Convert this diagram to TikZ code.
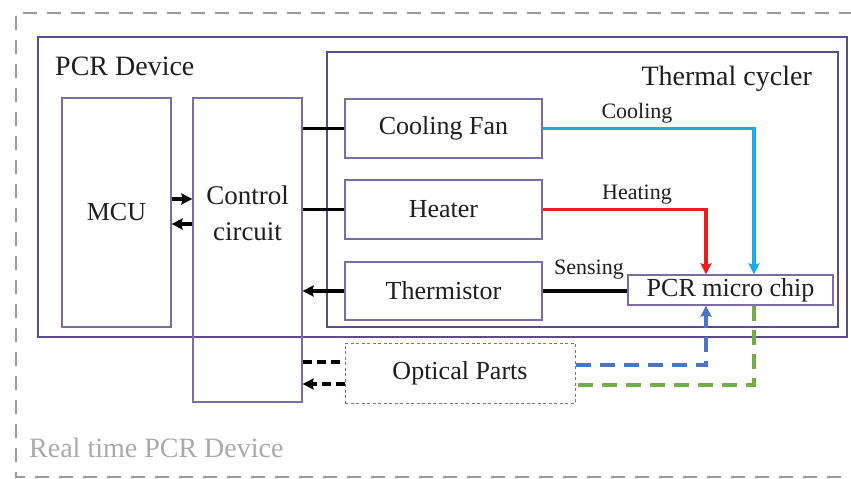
\documentclass[tikz,border=0pt]{standalone}
\usepackage{fontspec}
\setmainfont{Liberation Serif}
\usetikzlibrary{arrows.meta}
\definecolor{frame}{HTML}{5C4A8C}
\definecolor{boxc}{HTML}{7D6CA3}
\definecolor{txt}{HTML}{1E1E1E}
\definecolor{outerg}{HTML}{9A9A9A}
\definecolor{coolc}{HTML}{1EA9E8}
\definecolor{heatc}{HTML}{EE1C1C}
\definecolor{optblue}{HTML}{4A74C6}
\definecolor{optgreen}{HTML}{72AC44}
\begin{document}
\begin{tikzpicture}[x=1pt,y=-1pt,
  bigframe/.style={draw=frame,line width=2.2pt},
  blk/.style={draw=boxc,line width=1.3pt,inner sep=0pt,text=txt,font=\fontsize{26}{30}\selectfont},
  lbl/.style={inner sep=0pt,text=txt,font=\fontsize{22}{26}\selectfont},
  conn/.style={line width=3.4pt,black},
  tip/.style={-{Stealth[length=11pt,width=11pt,inset=1.5pt]}},
  bdash/.style={line width=3.4pt,black,dash pattern=on 9pt off 5pt},
  cdash/.style={line width=3.4pt,dash pattern=on 15pt off 9pt},
]
\useasboundingbox (0,0) rectangle (851,479);
% outer dashed frame (right side beyond picture)
\draw[outerg,line width=2.6pt,dash pattern=on 14pt off 10pt] (853,13) -- (16,13) -- (16,477) -- (853,477);
\node[anchor=west,inner sep=0pt,text=outerg!85!white,font=\fontsize{28}{32}\selectfont] (rtlabel) at (29,448) {Real time PCR Device};

% PCR device frame
\node[bigframe,inner sep=0pt,minimum width=809pt,minimum height=300pt] (pcr) at (442.5,187) {};
\node[anchor=west,inner sep=0pt,text=txt,font=\fontsize{28}{32}\selectfont] (pcrlabel) at (55,66) {PCR Device};
% thermal cycler frame
\node[bigframe,inner sep=0pt,minimum width=511pt,minimum height=275pt] (tc) at (582.5,189.5) {};
\node[anchor=east,inner sep=0pt,text=txt,font=\fontsize{28}{32}\selectfont] (tclabel) at (812,79) {Thermal cycler};

% blocks
\node[blk,minimum width=109pt,minimum height=229pt] (mcu) at (116.5,212.5) {MCU};
\node[blk,minimum width=109pt,minimum height=304pt] (ctl) at (247.5,250) {};
\node[inner sep=0pt,text=txt,font=\fontsize{27}{36}\selectfont,align=center] (ctltext) at (247.5,213) {Control\\circuit};
\node[blk,minimum width=197pt,minimum height=59pt] (fan) at (443.5,128.5) {Cooling Fan};
\node[blk,minimum width=197pt,minimum height=59pt] (heater) at (443.5,209.5) {Heater};
\node[blk,minimum width=197pt,minimum height=58pt] (therm) at (443.5,291) {Thermistor};
\node[blk,minimum width=205pt,minimum height=30pt] (chip) at (730.5,290) {PCR micro chip};
\node[blk,draw=boxc!80!gray,line width=1pt,dash pattern=on 3pt off 2.5pt,minimum width=230pt,minimum height=60pt] (opt) at (460,373) {Optical Parts};

% MCU <-> control
\draw[conn,tip] (mcu.east |- 0,199) -- (ctl.west |- 0,199);
\draw[conn,tip] (ctl.west |- 0,224) -- (mcu.east |- 0,224);
% control <-> thermal parts
\draw[conn] (ctl.east |- fan.west) -- (fan.west);
\draw[conn] (ctl.east |- heater.west) -- (heater.west);
\draw[conn,tip] (therm.west) -- (ctl.east |- therm.west);
\draw[conn] (therm.east) -- (chip.west |- therm.east);
\node[lbl] (sensing) at (589,270) {Sensing};
% cooling / heating
\draw[conn,coolc,tip] (fan.east) -| ([xshift=23.5pt]chip.north);
\node[lbl] (cooling) at (637,113) {Cooling};
\draw[conn,heatc,tip] (heater.east) -| ([xshift=-24.5pt]chip.north);
\node[lbl] (heating) at (637,195) {Heating};
% optical
\draw[cdash,optblue,tip] (opt.east |- 0,365) -| ([xshift=-24.5pt]chip.south);
\draw[cdash,optgreen] ([xshift=23.5pt]chip.south) |- (opt.east |- 0,385);
\draw[bdash] (ctl.east |- 0,362) -- (opt.west |- 0,362);
\draw[bdash,tip] (opt.west |- 0,384) -- (ctl.east |- 0,384);
\end{tikzpicture}
\end{document}
